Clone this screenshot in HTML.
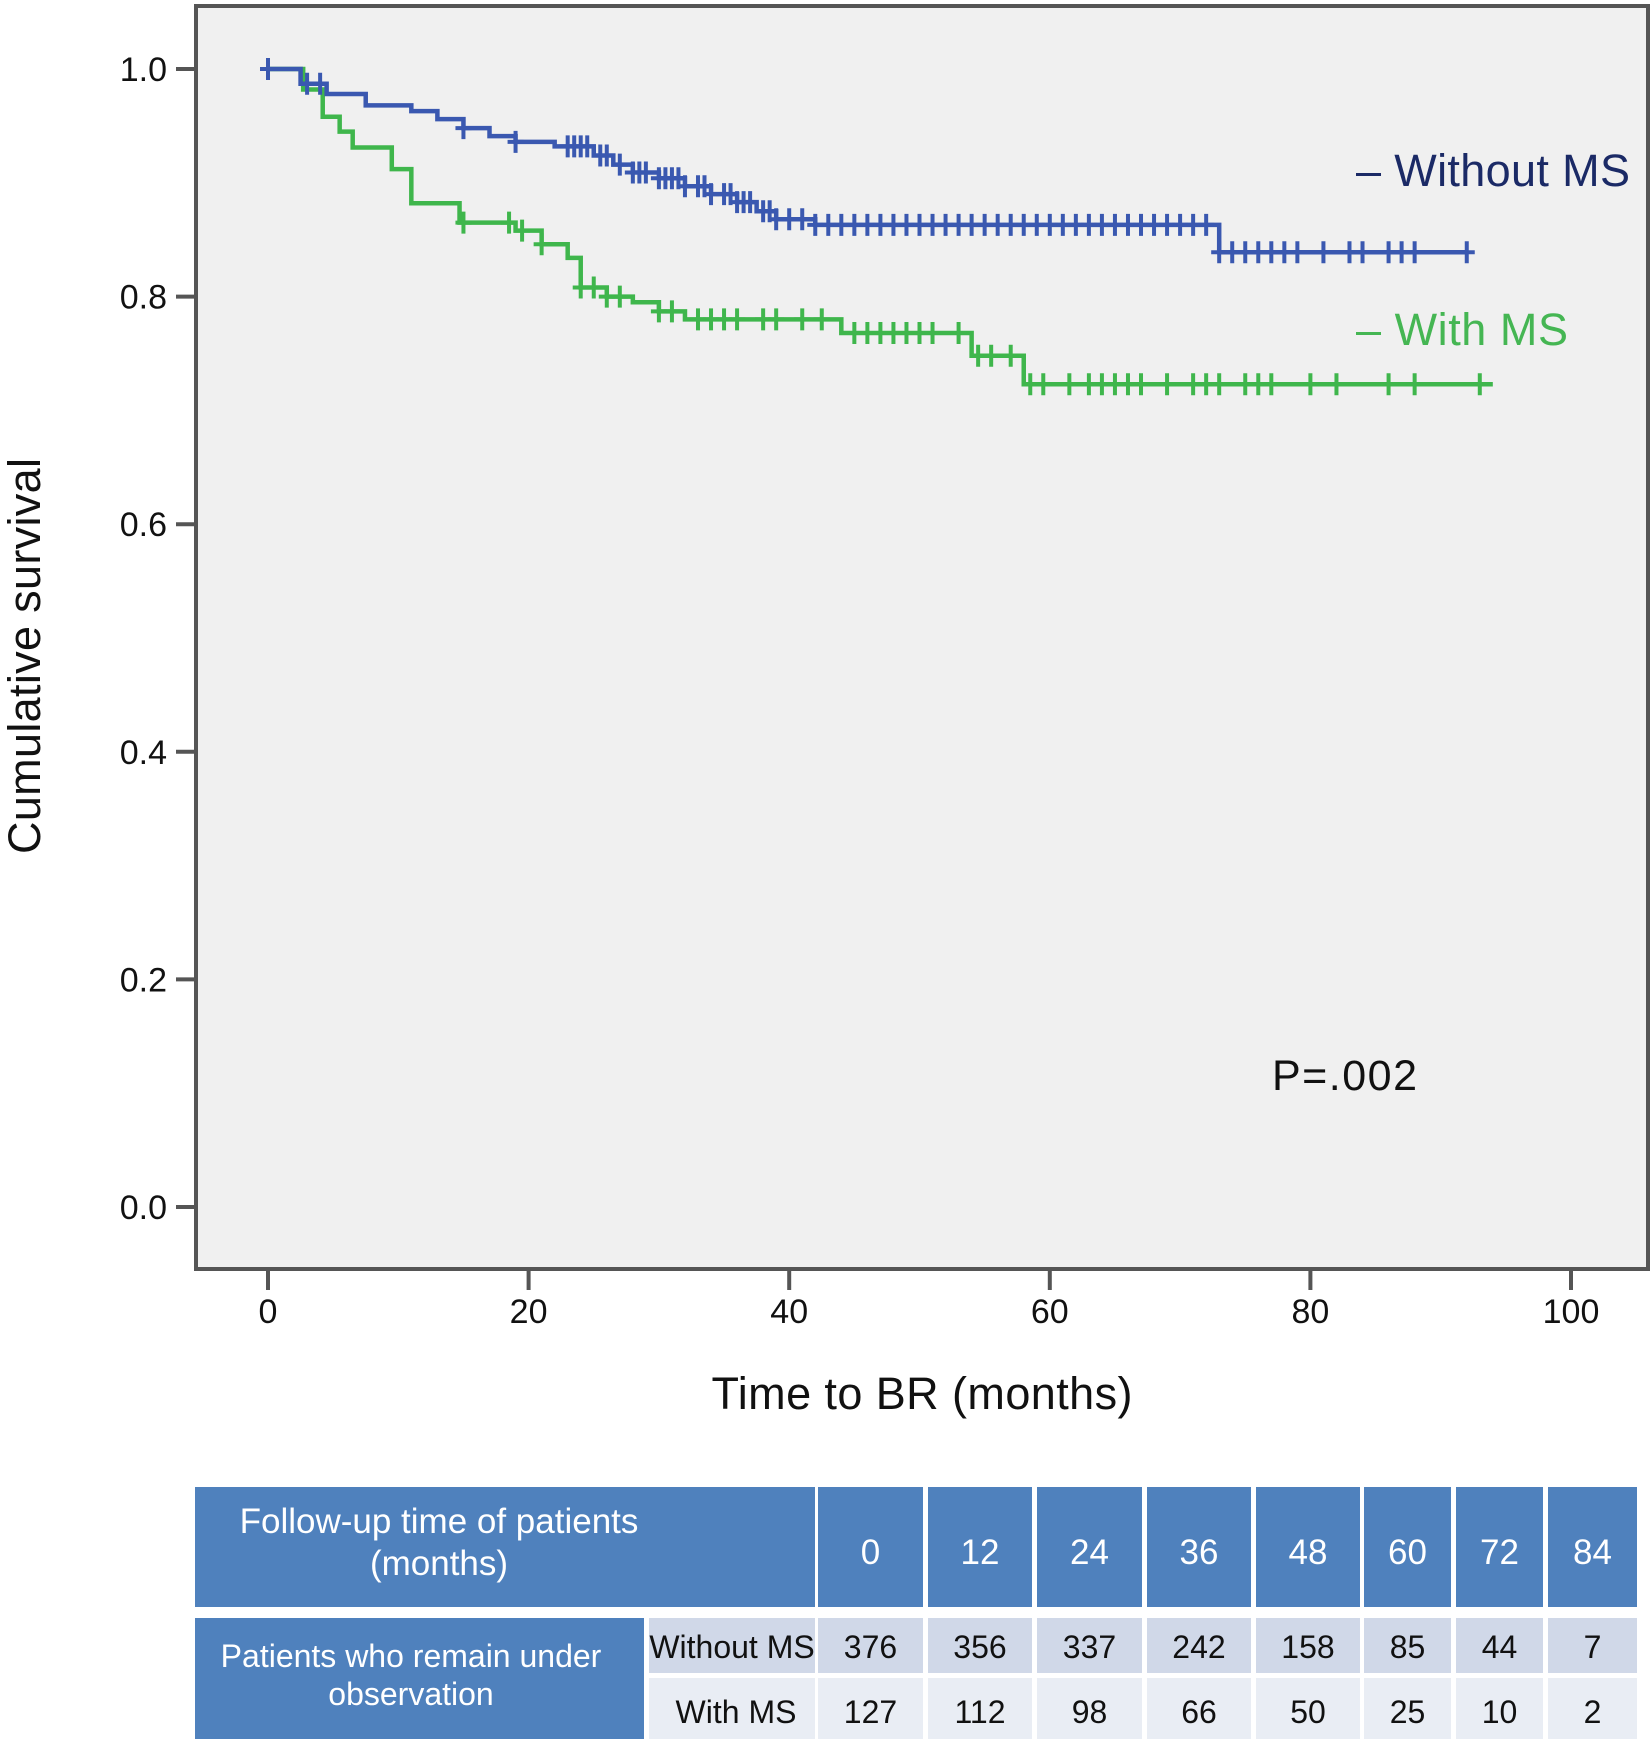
<!DOCTYPE html>
<html><head><meta charset="utf-8"><style>
html,body{margin:0;padding:0;background:#fff;}
svg{display:block;font-family:"Liberation Sans",Arial,sans-serif;}
</style></head><body>
<svg id="chart" width="1652" height="1742" viewBox="0 0 1652 1742" xmlns="http://www.w3.org/2000/svg">
<rect x="0" y="0" width="1652" height="1742" fill="#fff"/>
<rect x="196" y="6" width="1452" height="1263" fill="#f0f0f0" stroke="#555" stroke-width="4"/>
<g id="yaxis"></g>
<g id="xaxis"></g>
<g id="series"></g>
<text transform="translate(40,656) rotate(-90)" text-anchor="middle" font-size="45" fill="#111" textLength="396">Cumulative survival</text>
<text x="922" y="1409" text-anchor="middle" font-size="45" fill="#111" textLength="421">Time to BR (months)</text>
<text x="1356" y="186" font-size="45" fill="#1b2a66" textLength="274">– Without MS</text>
<text x="1356" y="345" font-size="45" fill="#45b653" textLength="212">– With MS</text>
<text x="1272" y="1090" font-size="43" fill="#111" textLength="145">P=.002</text>
<g id="table"></g>
</svg>
<script>
const NS="http://www.w3.org/2000/svg";
const yTicks=[0,0.2,0.4,0.6,0.8,1.0];
const yTickLabels=["0.0","0.2","0.4","0.6","0.8","1.0"];
const xTicks=[0,20,40,60,80,100];
const blueTimes=[0,2.5,4.5,7.5,11,13,15,17,19,22,25,26.5,28,30,32,34,36,37.5,39,42,73,92];
const blueSurv=[1.0,0.987,0.978,0.968,0.963,0.956,0.948,0.941,0.936,0.932,0.924,0.916,0.909,0.904,0.897,0.89,0.883,0.875,0.868,0.863,0.839,0.839];
const blueCensor=[0,3,4,15,19,23,23.5,24,24.5,25.5,26,27,28,28.5,29,30,30.5,31,31.5,32,33,33.5,34,35,35.5,36,36.5,37,38,38.5,39,40,41,42,43,44,45,46,47,48,49,50,51,52,53,54,55,56,57,58,59,60,61,62,63,64,65,66,67,68,69,70,71,72,73,74,75,76,77,78,79,81,83,84,86,87,88,92];
const greenTimes=[0,2.7,4.2,5.5,6.5,9.5,11,14.7,19,21,23,24,26,28,30,32,44,54,58,94];
const greenSurv=[1.0,0.982,0.958,0.945,0.931,0.912,0.882,0.865,0.858,0.846,0.834,0.808,0.80,0.795,0.787,0.78,0.768,0.748,0.723,0.723];
const greenCensor=[15,18.5,19.5,21,24,25,26,27,30,31,33,34,35,36,38,39,41,42.5,45,46,47,48,49,50,51,53,54.5,55.5,57,58.5,59.5,61.5,63,64,65,66,67,69,71,72,73,75,76,77,80,82,86,88,93];
const headerCols=["0","12","24","36","48","60","72","84"];
const rowWithout=["376","356","337","242","158","85","44","7"];
const rowWith=["127","112","98","66","50","25","10","2"];

const x=t=>268+t*13.03;
const y=s=>1207-s*1138;
function el(tag,attrs,parent,txt){const e=document.createElementNS(NS,tag);for(const k in attrs)e.setAttribute(k,attrs[k]);if(txt!==undefined)e.textContent=txt;parent.appendChild(e);return e;}

const ya=document.getElementById('yaxis');
yTicks.forEach((v,i)=>{
  const l=el('line',{x1:176,x2:196,y1:y(v),y2:y(v),stroke:'#555','stroke-width':4},ya);
  
  
  const t=el('text',{x:167,y:y(v)+12,'text-anchor':'end','font-size':34,fill:'#111'},ya,yTickLabels[i]);
  
  
});
const xa=document.getElementById('xaxis');
xTicks.forEach(v=>{
  const l=el('line',{x1:x(v),x2:x(v),y1:1269,y2:1290,stroke:'#555','stroke-width':4},xa);
  
  
  const t=el('text',{x:x(v),y:1323,'text-anchor':'middle','font-size':34,fill:'#111'},xa,String(v));
  
  
});

function stepAt(times,surv,t){let s=surv[0];for(let i=0;i<times.length;i++){if(times[i]<=t)s=surv[i];}return s;}
function drawSeries(times,surv,cens,color,name){
  const g=el('g',{},document.getElementById('series'));
  
  
  let d='M'+x(times[0])+','+y(surv[0]);
  for(let i=1;i<times.length;i++){d+=' H'+x(times[i])+' V'+y(surv[i]);}
  const p=el('path',{d:d,fill:'none',stroke:color,'stroke-width':4.5},g);
  
  
  cens.forEach(t=>{
    const s=stepAt(times,surv,t);
    const c=el('path',{d:'M'+(x(t)-8)+','+y(s)+' H'+(x(t)+8)+' M'+x(t)+','+(y(s)-11)+' V'+(y(s)+11),stroke:color,'stroke-width':4,fill:'none'},g);
    
    
  });
}
drawSeries(greenTimes,greenSurv,greenCensor,'#3fb64c','with-ms-series');
drawSeries(blueTimes,blueSurv,blueCensor,'#3a58b0','without-ms-series');

const tb=document.getElementById('table');
const cols=[[818,923],[928,1032],[1037,1142],[1147,1251],[1256,1360],[1364,1451],[1456,1543],[1548,1637]];
const blue='#4f81bd';
let r=el('rect',{x:195,y:1487,width:620,height:120,fill:blue},tb);


let t=el('text',{x:439,y:1533,'text-anchor':'middle','font-size':35,fill:'#fff'},tb,'Follow-up time of patients');


t=el('text',{x:439,y:1575,'text-anchor':'middle','font-size':35,fill:'#fff'},tb,'(months)');


r=el('rect',{x:195,y:1618,width:449,height:121,fill:blue},tb);


t=el('text',{x:411,y:1667,'text-anchor':'middle','font-size':32,fill:'#fff'},tb,'Patients who remain under');


t=el('text',{x:411,y:1705,'text-anchor':'middle','font-size':32,fill:'#fff'},tb,'observation');


r=el('rect',{x:649,y:1618,width:166,height:55,fill:'#d0d8e8'},tb);


r=el('rect',{x:649,y:1678,width:166,height:61,fill:'#e9edf4'},tb);


t=el('text',{x:732,y:1658,'text-anchor':'middle','font-size':32,fill:'#111'},tb,'Without MS');


t=el('text',{x:736,y:1723,'text-anchor':'middle','font-size':32,fill:'#111'},tb,'With MS');


cols.forEach((c,i)=>{
  const cx=(c[0]+c[1])/2,w=c[1]-c[0];
  let a=el('rect',{x:c[0],y:1487,width:w,height:120,fill:blue},tb);
  
  
  let b=el('text',{x:cx,y:1564,'text-anchor':'middle','font-size':35,fill:'#fff'},tb,headerCols[i]);
  
  
  a=el('rect',{x:c[0],y:1618,width:w,height:55,fill:'#d0d8e8'},tb);
  
  
  b=el('text',{x:cx,y:1658,'text-anchor':'middle','font-size':32,fill:'#111'},tb,rowWithout[i]);
  
  
  a=el('rect',{x:c[0],y:1678,width:w,height:61,fill:'#e9edf4'},tb);
  
  
  b=el('text',{x:cx,y:1723,'text-anchor':'middle','font-size':32,fill:'#111'},tb,rowWith[i]);
  
  
});
</script>
</body></html>
